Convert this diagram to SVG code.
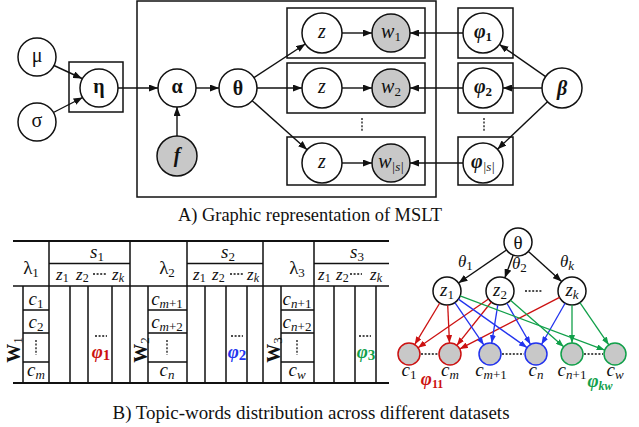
<svg xmlns="http://www.w3.org/2000/svg" width="639" height="427" viewBox="0 0 639 427" font-family="'Liberation Serif', 'DejaVu Serif', serif">
  <style>
    text, tspan { font-family: "Liberation Serif", "DejaVu Serif", serif; }
    text { fill: #111; }
    .node { fill: #fff; stroke: #111; stroke-width: 1.5; }
    .obs { fill: #c8c8c8; stroke: #111; stroke-width: 1.5; }
    .plate { fill: none; stroke: #111; stroke-width: 1.5; }
    .edge { fill: none; stroke: #111; stroke-width: 1.4; marker-end: url(#ah); }
    .red { fill: none; stroke: #cc1111; stroke-width: 1.3; marker-end: url(#ahR); }
    .blue { fill: none; stroke: #2233ee; stroke-width: 1.3; marker-end: url(#ahB); }
    .green { fill: none; stroke: #11a04a; stroke-width: 1.3; marker-end: url(#ahG); }
    .dots { stroke: #111; stroke-width: 1.3; stroke-dasharray: 2 1.6; fill: none; }
    .rule { stroke: #111; stroke-width: 1.5; fill: none; }
    .thick { stroke: #111; stroke-width: 2; fill: none; }
    .lbl { font-size: 20px; text-anchor: middle; }
    .glbl { font-size: 19px; text-anchor: middle; }
    .it { font-style: italic; }
    .bd { font-weight: bold; }
    .sub { font-size: 13px; }
    .cap { font-size: 18px; text-anchor: middle; }
    .tbl { font-size: 19px; text-anchor: middle; }
    .hz { font-size: 17px; font-style: italic; }
  </style>
  <defs>
    <marker id="ah" markerUnits="userSpaceOnUse" markerWidth="9" markerHeight="7" refX="9" refY="3.5" orient="auto">
      <path d="M0,0 L9,3.5 L0,7 z" fill="#111"/>
    </marker>
    <marker id="ahR" markerUnits="userSpaceOnUse" markerWidth="8" markerHeight="6" refX="8" refY="3" orient="auto">
      <path d="M0,0 L8,3 L0,6 z" fill="#cc1111"/>
    </marker>
    <marker id="ahB" markerUnits="userSpaceOnUse" markerWidth="8" markerHeight="6" refX="8" refY="3" orient="auto">
      <path d="M0,0 L8,3 L0,6 z" fill="#2233ee"/>
    </marker>
    <marker id="ahG" markerUnits="userSpaceOnUse" markerWidth="8" markerHeight="6" refX="8" refY="3" orient="auto">
      <path d="M0,0 L8,3 L0,6 z" fill="#11a04a"/>
    </marker>
  </defs>

  <!-- ===== Part A: plate model ===== -->
  <g id="plates">
    <rect class="plate" x="69" y="62" width="54" height="50"/>
    <rect class="plate" x="137" y="1" width="299" height="196"/>
    <rect class="plate" x="287" y="8" width="138" height="50"/>
    <rect class="plate" x="287" y="63" width="138" height="50"/>
    <rect class="plate" x="287" y="137" width="138" height="48"/>
    <rect class="plate" x="458" y="8" width="55" height="50"/>
    <rect class="plate" x="458" y="63" width="55" height="50"/>
    <rect class="plate" x="458" y="137" width="55" height="48"/>
    <line class="dots" x1="362" y1="118" x2="362" y2="131"/>
    <line class="dots" x1="484" y1="118" x2="484" y2="131"/>
  </g>

  <g id="node-mu"><circle class="node" cx="37" cy="57" r="19"/><text class="lbl" x="37" y="62">μ</text></g>
  <g id="node-sigma"><circle class="node" cx="37" cy="122" r="19"/><text class="lbl" x="37" y="127">σ</text></g>
  <g id="node-eta"><circle class="node" cx="99" cy="88" r="19"/><text class="lbl bd" x="99" y="93">η</text></g>
  <g id="node-alpha"><circle class="node" cx="177" cy="88" r="19"/><text class="lbl bd" x="177" y="93">α</text></g>
  <g id="node-f"><circle class="obs" cx="177" cy="156" r="20"/><text class="lbl bd it" x="177" y="162">f</text></g>
  <g id="node-theta"><circle class="node" cx="238" cy="88" r="19"/><text class="lbl bd" x="238" y="95">θ</text></g>

  <g id="node-z1"><circle class="node" cx="322" cy="33" r="20"/><text class="lbl it" x="322" y="38">z</text></g>
  <g id="node-z2"><circle class="node" cx="322" cy="88" r="20"/><text class="lbl it" x="322" y="93">z</text></g>
  <g id="node-z3"><circle class="node" cx="322" cy="163" r="20"/><text class="lbl it" x="322" y="168">z</text></g>

  <g id="node-w1"><circle class="obs" cx="391" cy="33" r="19"/><text class="lbl" x="391" y="38"><tspan class="it">w</tspan><tspan class="sub" dy="3">1</tspan></text></g>
  <g id="node-w2"><circle class="obs" cx="391" cy="88" r="19"/><text class="lbl" x="391" y="93"><tspan class="it">w</tspan><tspan class="sub" dy="3">2</tspan></text></g>
  <g id="node-w3"><circle class="obs" cx="391" cy="163" r="19"/><text class="lbl" x="391" y="168"><tspan class="it">w</tspan><tspan class="sub it" dy="3">|s|</tspan></text></g>

  <g id="node-phi1"><circle class="node" cx="483" cy="33" r="20"/><text class="lbl bd" x="483" y="38"><tspan class="it">φ</tspan><tspan class="sub" dy="3">1</tspan></text></g>
  <g id="node-phi2"><circle class="node" cx="483" cy="88" r="20"/><text class="lbl bd" x="483" y="93"><tspan class="it">φ</tspan><tspan class="sub" dy="3">2</tspan></text></g>
  <g id="node-phi3"><circle class="node" cx="483" cy="163" r="20"/><text class="lbl" x="483" y="168"><tspan class="it bd">φ</tspan><tspan class="sub it" dy="3">|s|</tspan></text></g>

  <g id="node-beta"><circle class="node" cx="562" cy="88" r="20"/><text class="lbl bd it" x="562" y="95">β</text></g>

  <g id="connectors-a">
    <line class="edge" x1="54" y1="65.5" x2="82" y2="78.5"/>
    <line class="edge" x1="53.4" y1="112.5" x2="82.6" y2="97.5"/>
    <line class="edge" x1="118" y1="88" x2="158" y2="88"/>
    <line class="edge" x1="177" y1="136" x2="177" y2="107"/>
    <line class="edge" x1="196" y1="88" x2="219" y2="88"/>
    <line class="edge" x1="253.9" y1="77.6" x2="305.3" y2="44"/>
    <line class="edge" x1="257" y1="88" x2="302" y2="88"/>
    <line class="edge" x1="252.2" y1="100.7" x2="307.1" y2="149.7"/>
    <line class="edge" x1="342" y1="33" x2="372" y2="33"/>
    <line class="edge" x1="342" y1="88" x2="372" y2="88"/>
    <line class="edge" x1="342" y1="163" x2="372" y2="163"/>
    <line class="edge" x1="463" y1="33" x2="410" y2="33"/>
    <line class="edge" x1="463" y1="88" x2="410" y2="88"/>
    <line class="edge" x1="463" y1="163" x2="410" y2="163"/>
    <line class="edge" x1="545.6" y1="76.6" x2="499.4" y2="44.4"/>
    <line class="edge" x1="542" y1="88" x2="503" y2="88"/>
    <line class="edge" x1="547.5" y1="101.8" x2="497.5" y2="149.2"/>
  </g>

  <text class="cap" x="310" y="221" textLength="264" lengthAdjust="spacingAndGlyphs">A) Graphic representation of MSLT</text>

  <!-- ===== Part B: topic-word table ===== -->
  <g id="table">
    <line class="thick" x1="13" y1="241" x2="389" y2="241"/>
    <line class="rule" x1="13" y1="286" x2="389" y2="286"/>
    <line class="thick" x1="13" y1="383" x2="389" y2="383"/>
    <line class="rule" x1="49" y1="263.5" x2="130" y2="263.5"/>
    <line class="rule" x1="187" y1="263.5" x2="263" y2="263.5"/>
    <line class="rule" x1="314" y1="263.5" x2="389" y2="263.5"/>
    <!-- full-height dividers -->
    <path class="rule" d="M49,241V383 M130,241V383 M187,241V383 M263,241V383 M314,241V383"/>
    <!-- body-only dividers -->
    <path class="rule" d="M23,286V383 M70,286V383 M88,286V383 M112,286V383 M148,286V383 M205,286V383 M226,286V383 M247,286V383 M281,286V383 M334,286V383 M355,286V383 M376,286V383"/>
    <!-- word cells -->
    <path class="rule" d="M23,310H49 M23,333H49 M23,362H49 M148,310H187 M148,333H187 M148,362H187 M281,310H314 M281,333H314 M281,362H314"/>
    <path class="dots" d="M36,340V355 M167,340V355 M297,340V355"/>
    <path class="dots" d="M95,336H107 M231,336H243 M359,336H371"/>
    <path class="dots" d="M93,274H106 M230,274H243 M350,274H362"/>
  </g>

  <g id="table-text">
    <text class="tbl" font-size="17" x="31" y="274">λ<tspan class="sub" dy="3">1</tspan></text>
    <text class="tbl" font-size="17" x="167" y="274">λ<tspan class="sub" dy="3">2</tspan></text>
    <text class="tbl" font-size="17" x="297" y="274">λ<tspan class="sub" dy="3">3</tspan></text>
    <text class="tbl" font-size="18" x="97" y="258"><tspan class="it">s</tspan><tspan class="sub" dy="3">1</tspan></text>
    <text class="tbl" font-size="18" x="228" y="258"><tspan class="it">s</tspan><tspan class="sub" dy="3">2</tspan></text>
    <text class="tbl" font-size="18" x="357" y="258"><tspan class="it">s</tspan><tspan class="sub" dy="3">3</tspan></text>

    <text class="hz" x="56" y="280">z<tspan font-size="12" font-style="normal" dy="2">1</tspan></text>
    <text class="hz" x="76" y="280">z<tspan font-size="12" font-style="normal" dy="2">2</tspan></text>
    <text class="hz" x="112" y="280">z<tspan font-size="12" dy="2">k</tspan></text>
    <text class="hz" x="193" y="280">z<tspan font-size="12" font-style="normal" dy="2">1</tspan></text>
    <text class="hz" x="212" y="280">z<tspan font-size="12" font-style="normal" dy="2">2</tspan></text>
    <text class="hz" x="247" y="280">z<tspan font-size="12" dy="2">k</tspan></text>
    <text class="hz" x="318" y="280">z<tspan font-size="12" font-style="normal" dy="2">1</tspan></text>
    <text class="hz" x="336" y="280">z<tspan font-size="12" font-style="normal" dy="2">2</tspan></text>
    <text class="hz" x="370" y="280">z<tspan font-size="12" dy="2">k</tspan></text>

    <text class="tbl" font-size="18" transform="translate(20,350) rotate(-90)"><tspan class="bd">W</tspan><tspan class="sub" dy="2">1</tspan></text>
    <text class="tbl" font-size="18" transform="translate(147,350) rotate(-90)"><tspan class="bd">W</tspan><tspan class="sub" dy="2">2</tspan></text>
    <text class="tbl" font-size="18" transform="translate(280,350) rotate(-90)"><tspan class="bd">W</tspan><tspan class="sub" dy="2">3</tspan></text>

    <text class="tbl" x="36" y="305"><tspan class="it">c</tspan><tspan class="sub" dy="3">1</tspan></text>
    <text class="tbl" x="36" y="328"><tspan class="it">c</tspan><tspan class="sub" dy="3">2</tspan></text>
    <text class="tbl" x="36" y="376"><tspan class="it">c</tspan><tspan class="sub it" dy="3">m</tspan></text>
    <text class="tbl" x="167" y="305"><tspan class="it">c</tspan><tspan class="sub" dy="3"><tspan class="it">m</tspan>+1</tspan></text>
    <text class="tbl" x="167" y="328"><tspan class="it">c</tspan><tspan class="sub" dy="3"><tspan class="it">m</tspan>+2</tspan></text>
    <text class="tbl" x="167" y="376"><tspan class="it">c</tspan><tspan class="sub it" dy="3">n</tspan></text>
    <text class="tbl" x="297" y="305"><tspan class="it">c</tspan><tspan class="sub" dy="3"><tspan class="it">n</tspan>+1</tspan></text>
    <text class="tbl" x="297" y="328"><tspan class="it">c</tspan><tspan class="sub" dy="3"><tspan class="it">n</tspan>+2</tspan></text>
    <text class="tbl" x="297" y="376"><tspan class="it">c</tspan><tspan class="sub it" dy="3">w</tspan></text>

    <text class="tbl bd" x="101" y="358" font-size="21" style="fill:#cc1111"><tspan class="it">φ</tspan><tspan font-size="15" dy="2">1</tspan></text>
    <text class="tbl bd" x="237" y="358" font-size="21" style="fill:#2233ee"><tspan class="it">φ</tspan><tspan font-size="15" dy="2">2</tspan></text>
    <text class="tbl bd" x="366" y="358" font-size="21" style="fill:#11a04a"><tspan class="it">φ</tspan><tspan font-size="15" dy="2">3</tspan></text>
  </g>

  <!-- ===== Part B: topic-word graph ===== -->
  <g id="node-theta-b"><circle class="node" cx="518" cy="242" r="14"/><text class="glbl" x="518" y="249">θ</text></g>
  <g id="node-zb1"><circle class="node" cx="447" cy="291" r="14"/><text class="glbl it" x="447" y="296">z<tspan class="sub" font-style="normal" dy="3">1</tspan></text></g>
  <g id="node-zb2"><circle class="node" cx="500" cy="291" r="14"/><text class="glbl it" x="500" y="296">z<tspan class="sub" font-style="normal" dy="3">2</tspan></text></g>
  <g id="node-zbk"><circle class="node" cx="572" cy="291" r="14"/><text class="glbl it" x="572" y="296">z<tspan class="sub" dy="3">k</tspan></text></g>
  <line class="dots" x1="525" y1="291" x2="543" y2="291"/>

  <g id="node-c1"><circle class="obs" cx="409" cy="354" r="11" style="stroke:#cc1111"/></g>
  <g id="node-cm"><circle class="obs" cx="450" cy="354" r="11" style="stroke:#cc1111"/></g>
  <g id="node-cm1"><circle class="obs" cx="490" cy="354" r="11" style="stroke:#2233ee"/></g>
  <g id="node-cn"><circle class="obs" cx="536" cy="354" r="11" style="stroke:#2233ee"/></g>
  <g id="node-cn1"><circle class="obs" cx="572" cy="354" r="11" style="stroke:#11a04a"/></g>
  <g id="node-cw"><circle class="obs" cx="615" cy="354" r="11" style="stroke:#11a04a"/></g>
  <path class="dots" d="M421,354H438 M502,354H524 M584,354H603"/>

  <g id="graph-labels">
    <text class="it" font-size="17" x="458" y="267">θ<tspan class="sub" font-style="normal" dy="3">1</tspan></text>
    <text class="it" font-size="17" x="512" y="269">θ<tspan class="sub" font-style="normal" dy="3">2</tspan></text>
    <text class="it" font-size="17" x="560" y="267">θ<tspan class="sub" dy="3">k</tspan></text>
    <text class="tbl" font-size="18" x="409" y="376"><tspan class="it">c</tspan><tspan class="sub" dy="3">1</tspan></text>
    <text class="tbl" font-size="18" x="450" y="376"><tspan class="it">c</tspan><tspan class="sub it" dy="3">m</tspan></text>
    <text class="tbl" font-size="18" x="491" y="376"><tspan class="it">c</tspan><tspan class="sub" dy="3"><tspan class="it">m</tspan>+1</tspan></text>
    <text class="tbl" font-size="18" x="536" y="376"><tspan class="it">c</tspan><tspan class="sub it" dy="3">n</tspan></text>
    <text class="tbl" font-size="18" x="572" y="376"><tspan class="it">c</tspan><tspan class="sub" dy="3"><tspan class="it">n</tspan>+1</tspan></text>
    <text class="tbl" font-size="18" x="615" y="376"><tspan class="it">c</tspan><tspan class="sub it" dy="3">w</tspan></text>
    <text class="tbl bd" x="432" y="385" font-size="18" style="fill:#cc1111"><tspan class="it">φ</tspan><tspan font-size="12" dy="3">11</tspan></text>
    <text class="tbl bd" x="600" y="387" font-size="18" style="fill:#11a04a"><tspan class="it">φ</tspan><tspan class="it" font-size="12" dy="3">kw</tspan></text>
  </g>

  <g id="connectors-b">
    <line class="edge" x1="506.5" y1="250" x2="458.5" y2="283"/>
    <line class="edge" x1="513.2" y1="255.1" x2="504.8" y2="277.9"/>
    <line class="edge" x1="528.4" y1="251.4" x2="561.6" y2="281.6"/>

    <line class="red" x1="439.8" y1="303" x2="414.7" y2="344.6"/>
    <line class="red" x1="488.5" y1="299" x2="418" y2="347.7"/>
    <line class="red" x1="447.7" y1="305" x2="449.5" y2="343"/>
    <line class="red" x1="491.3" y1="302" x2="456.8" y2="345.4"/>
    <line class="red" x1="559.6" y1="297.4" x2="459.8" y2="348.9"/>

    <line class="blue" x1="454.9" y1="302.6" x2="483.8" y2="344.9"/>
    <line class="blue" x1="458.4" y1="299.1" x2="527" y2="347.6"/>
    <line class="blue" x1="497.8" y1="304.8" x2="491.7" y2="343.1"/>
    <line class="blue" x1="506.9" y1="303.2" x2="530.5" y2="344.5"/>
    <line class="blue" x1="565.1" y1="303.2" x2="541.5" y2="344.5"/>

    <line class="green" x1="460.1" y1="295.9" x2="604.7" y2="350.1"/>
    <line class="green" x1="510.5" y1="300.2" x2="563.7" y2="346.8"/>
    <line class="green" x1="572" y1="305" x2="572" y2="343"/>
    <line class="green" x1="579.9" y1="302.6" x2="608.8" y2="344.9"/>
  </g>

  <text class="cap" x="311" y="419" textLength="397" lengthAdjust="spacingAndGlyphs">B) Topic-words distribution across different datasets</text>
</svg>
